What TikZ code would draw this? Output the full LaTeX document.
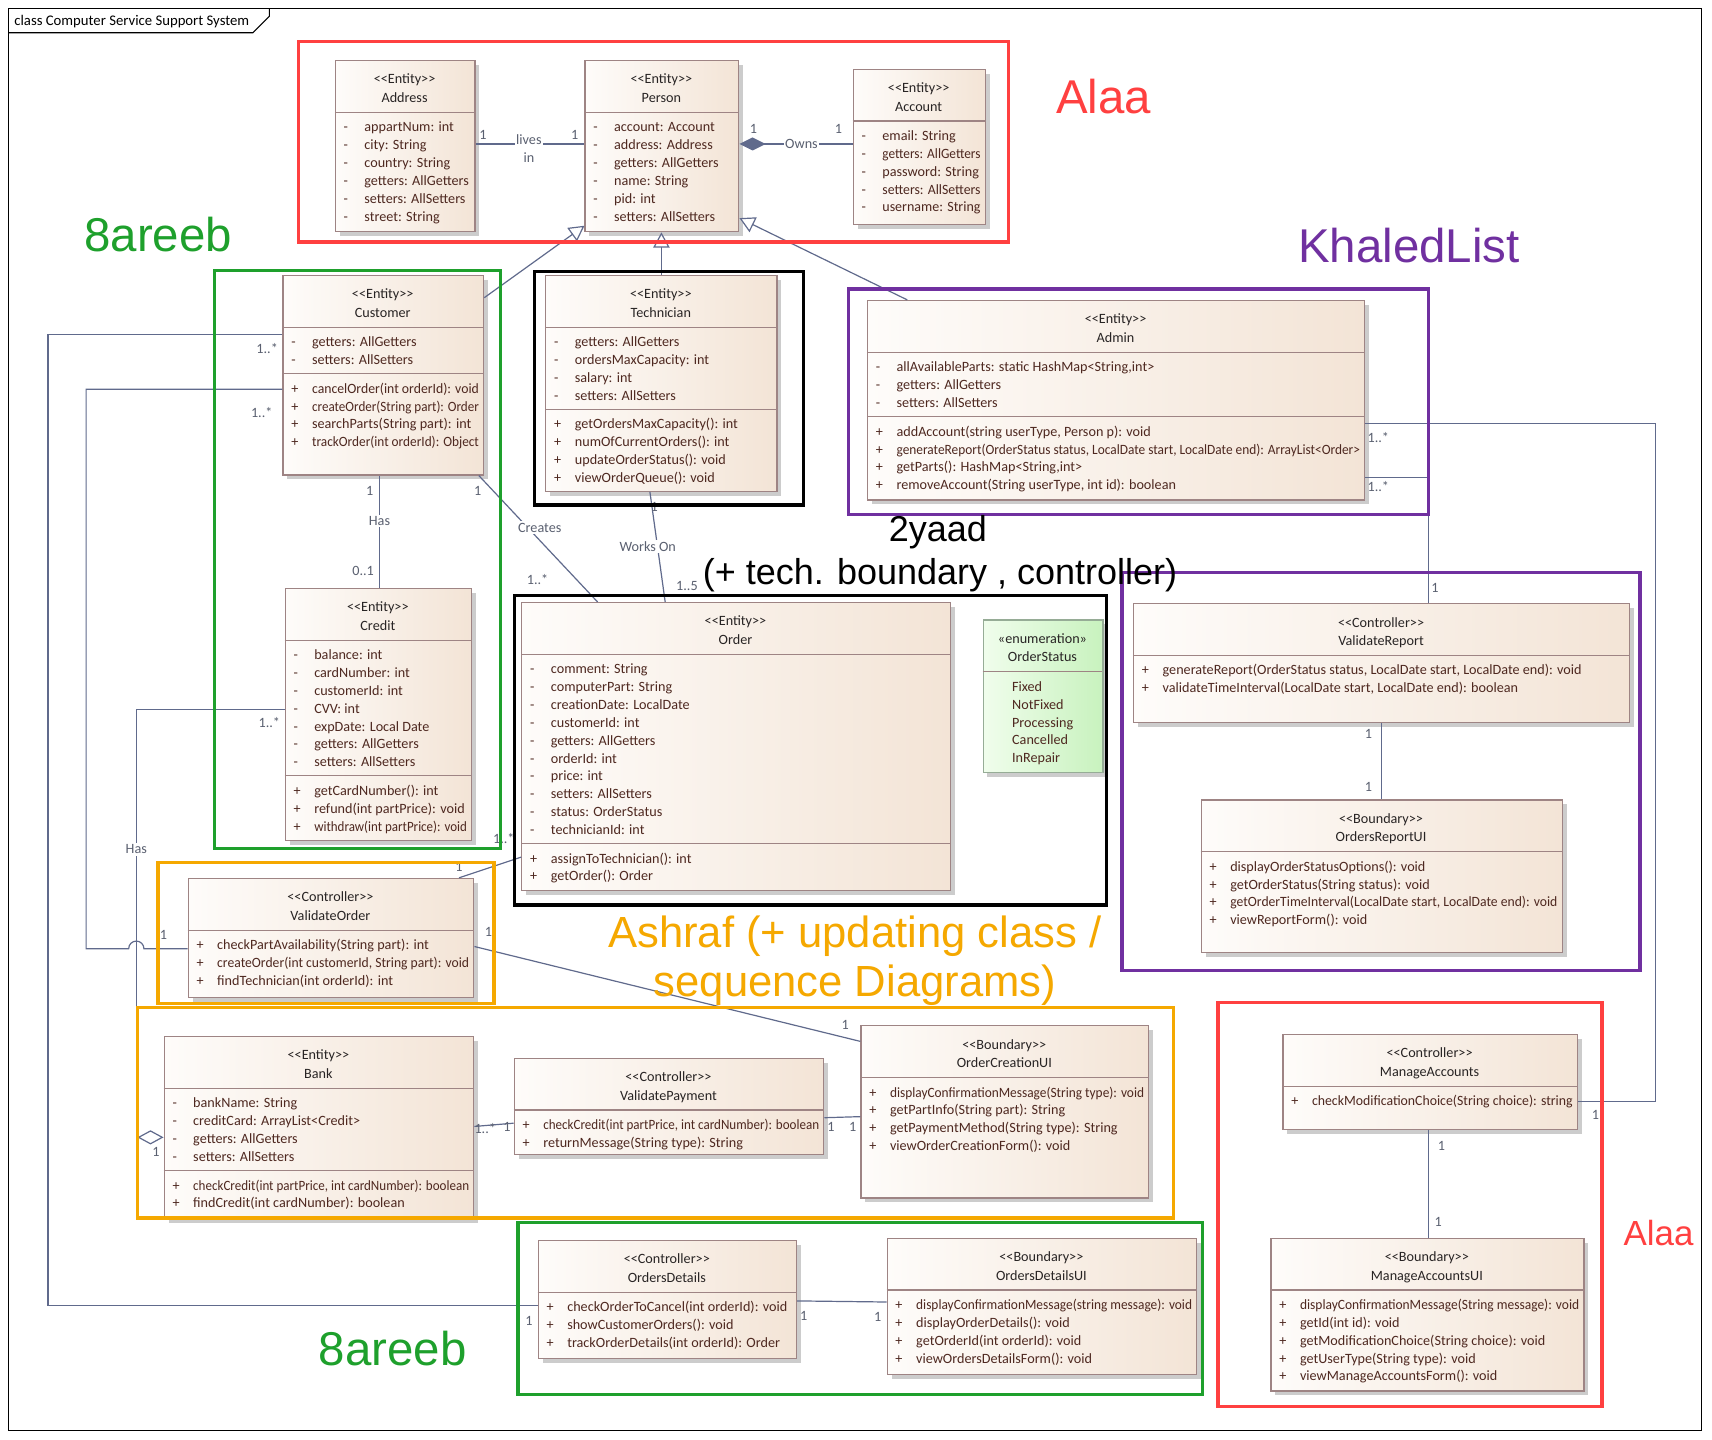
\documentclass[tikz,border=0pt]{standalone}
\usepackage{fontspec}
\usepackage{graphicx}
\newfontfamily\umlfont{Carlito}
\newfontfamily\notefont{Liberation Sans}
\usetikzlibrary{arrows.meta,shadows}

\definecolor{clsborder}{RGB}{158,132,132}
\definecolor{clsleft}{RGB}{254,252,250}
\definecolor{clsright}{RGB}{243,228,214}
\definecolor{enumleft}{RGB}{240,253,236}
\definecolor{enumright}{RGB}{200,242,190}
\definecolor{enumborder}{RGB}{150,172,150}
\definecolor{linkcol}{RGB}{96,106,140}
\definecolor{multcol}{RGB}{90,96,112}
\definecolor{membercol}{RGB}{78,40,32}
\definecolor{headcol}{RGB}{40,36,36}
\definecolor{alaared}{RGB}{255,64,64}
\definecolor{areebgreen}{RGB}{30,160,44}
\definecolor{khaledpurple}{RGB}{112,48,160}
\definecolor{ashrafamber}{RGB}{245,168,0}

\newsavebox\fitbox
\newcommand\fitto[2]{\sbox\fitbox{#2}\ifdim\wd\fitbox>#1\relax\resizebox{#1}{\height}{\usebox\fitbox}\else\usebox\fitbox\fi}
\newcommand\st[1]{<{}<#1>{}>}

\newcommand\umlclass[8][]{%
  \node[umlbox,#1,minimum width={(#5-#3)*1pt},minimum height={(#6-#4)*1pt}] (#2) at (#3,#4) {};
  \node[umlhead] (#2-st) at ({(#3+#5)/2},#4+22) {#7};
  \node[umlhead] (#2-nm) at ({(#3+#5)/2},#4+39) {#8};
  \def\clsName{#2}\def\clsL{#3}\def\clsR{#5}%
  \pgfmathsetmacro\clsY{#4+48}%
  \pgfmathsetmacro\clsW{#5-#3-31}}

\newcommand\umlpart[3]{%
  \draw[umlline] (\clsL,\clsY) -- (\clsR,\clsY);
  \foreach \m [count=\i] in {#3}{%
    \node[umlmember] (\clsName-#1-\i-k) at (\clsL+8,\clsY+1.65+16.35*\i) {#2};
    \node[umlmember] (\clsName-#1-\i) at (\clsL+27,\clsY+1.65+16.35*\i) {\fitto{\clsW pt}{\m}};
    \xdef\clsCount{\i}}%
  \pgfmathsetmacro\clsY{\clsY+16.35*\clsCount+10}}

\begin{document}
\begin{tikzpicture}[x=1pt,y=-1pt,
  umlbox/.style={draw=clsborder,line width=1.1pt,left color=clsleft,right color=clsright,anchor=north west,inner sep=0pt,
    drop shadow={shadow xshift=4pt,shadow yshift=-4pt,fill=black!20,opacity=1}},
  enumbox/.style={draw=enumborder,left color=enumleft,right color=enumright},
  umlhead/.style={font={\umlfont\fontsize{13}{15}\selectfont},text=headcol,anchor=base,inner sep=0pt},
  umlmember/.style={font={\umlfont\fontsize{13}{15}\selectfont},text=membercol,anchor=base west,inner sep=0pt},
  umlline/.style={draw=clsborder,line width=1.1pt},
  link/.style={draw=linkcol,line width=1.1pt},
  mult/.style={font={\umlfont\fontsize{13}{15}\selectfont},text=multcol,inner sep=0pt},
  linklabel/.style={mult,fill=white,inner sep=1.5pt},
  group/.style={line width=3pt},
  note/.style={font={\notefont\fontsize{43.5}{50}\selectfont},anchor=base,inner sep=0pt}]

  \useasboundingbox (0,0) rectangle (1570,1320);
  \fill[white] (0,0) rectangle (1570,1320);

  \draw[line width=1pt] (8,8) rectangle (1560,1312);
  \draw[line width=1pt] (8,30) -- (232,30) -- (247,15) -- (247,8);
  \node[anchor=west,inner sep=0pt,font={\umlfont\fontsize{13.5}{15}\selectfont}] (frametitle) at (13,19.5) {class Computer Service Support System};

  \umlclass{address}{307}{55}{435}{212}{\st{Entity}}{Address}
  \umlpart{a}{-}{appartNum: int, city: String, country: String, getters: AllGetters, setters: AllSetters, street: String}

  \umlclass{person}{536}{55}{677}{212}{\st{Entity}}{Person}
  \umlpart{a}{-}{account: Account, address: Address, getters: AllGetters, name: String, pid: int, setters: AllSetters}

  \umlclass{account}{782}{63}{903}{205}{\st{Entity}}{Account}
  \umlpart{a}{-}{email: String, getters: AllGetters, password: String, setters: AllSetters, username: String}

  \umlclass{customer}{259}{252}{443}{435}{\st{Entity}}{Customer}
  \umlpart{a}{-}{getters: AllGetters, setters: AllSetters}
  \umlpart{b}{+}{cancelOrder(int orderId): void, createOrder(String part): Order, searchParts(String part): int, trackOrder(int orderId): Object}

  \umlclass{technician}{500}{252}{712}{450}{\st{Entity}}{Technician}
  \umlpart{a}{-}{getters: AllGetters, ordersMaxCapacity: int, salary: int, setters: AllSetters}
  \umlpart{b}{+}{getOrdersMaxCapacity(): int, numOfCurrentOrders(): int, updateOrderStatus(): void, viewOrderQueue(): void}

  \umlclass{admin}{795}{275}{1251}{458}{\st{Entity}}{Admin}
  \umlpart{a}{-}{{allAvailableParts: static HashMap<String,int>}, getters: AllGetters, setters: AllSetters}
  \umlpart{b}{+}{{addAccount(string userType, Person p): void}, {generateReport(OrderStatus status, LocalDate start, LocalDate end): ArrayList<Order>}, {getParts(): HashMap<String,int>}, {removeAccount(String userType, int id): boolean}}

  \umlclass{credit}{261}{539}{432}{770}{\st{Entity}}{Credit}
  \umlpart{a}{-}{balance: int, cardNumber: int, customerId: int, CVV: int, expDate: Local Date, getters: AllGetters, setters: AllSetters}
  \umlpart{b}{+}{getCardNumber(): int, refund(int partPrice): void, withdraw(int partPrice): void}

  \umlclass{order}{478}{552}{871}{816}{\st{Entity}}{Order}
  \umlpart{a}{-}{comment: String, computerPart: String, creationDate: LocalDate, customerId: int, getters: AllGetters, orderId: int, price: int, setters: AllSetters, status: OrderStatus, technicianId: int}
  \umlpart{b}{+}{assignToTechnician(): int, getOrder(): Order}

  \umlclass[enumbox]{orderstatus}{901}{568}{1011}{708}{«enumeration»}{OrderStatus}
  \umlpart{a}{}{Fixed, NotFixed, Processing, Cancelled, InRepair}

  \umlclass{validatereport}{1039}{553}{1494}{662}{\st{Controller}}{ValidateReport}
  \umlpart{a}{+}{{generateReport(OrderStatus status, LocalDate start, LocalDate end): void}, {validateTimeInterval(LocalDate start, LocalDate end): boolean}}

  \umlclass{ordersreportui}{1101}{733}{1432}{873}{\st{Boundary}}{OrdersReportUI}
  \umlpart{a}{+}{displayOrderStatusOptions(): void, getOrderStatus(String status): void, {getOrderTimeInterval(LocalDate start, LocalDate end): void}, viewReportForm(): void}

  \umlclass{validateorder}{172}{805}{434}{914}{\st{Controller}}{ValidateOrder}
  \umlpart{a}{+}{checkPartAvailability(String part): int, {createOrder(int customerId, String part): void}, findTechnician(int orderId): int}

  \umlclass{bank}{150}{950}{434}{1117}{\st{Entity}}{Bank}
  \umlpart{a}{-}{bankName: String, creditCard: ArrayList<Credit>, getters: AllGetters, setters: AllSetters}
  \umlpart{b}{+}{{checkCredit(int partPrice,  int cardNumber): boolean}, findCredit(int cardNumber): boolean}

  \umlclass{validatepayment}{471}{970}{755}{1058}{\st{Controller}}{ValidatePayment}
  \umlpart{a}{+}{{checkCredit(int partPrice,  int cardNumber): boolean}, returnMessage(String type): String}

  \umlclass{ordercreationui}{789}{940}{1053}{1098}{\st{Boundary}}{OrderCreationUI}
  \umlpart{a}{+}{displayConfirmationMessage(String type): void, getPartInfo(String part): String, getPaymentMethod(String type): String, viewOrderCreationForm(): void}

  \umlclass{ordersdetails}{493}{1137}{730}{1245}{\st{Controller}}{OrdersDetails}
  \umlpart{a}{+}{checkOrderToCancel(int orderId): void, showCustomerOrders(): void, trackOrderDetails(int orderId): Order}

  \umlclass{ordersdetailsui}{813}{1135}{1097}{1260}{\st{Boundary}}{OrdersDetailsUI}
  \umlpart{a}{+}{displayConfirmationMessage(string message): void, displayOrderDetails(): void, getOrderId(int orderId): void, viewOrdersDetailsForm(): void}

  \umlclass{manageaccounts}{1176}{948}{1446}{1035}{\st{Controller}}{ManageAccounts}
  \umlpart{a}{+}{checkModificationChoice(String choice): string}

  \umlclass{manageaccountsui}{1165}{1135}{1452}{1275}{\st{Boundary}}{ManageAccountsUI}
  \umlpart{a}{+}{displayConfirmationMessage(String message): void, getId(int id): void, getModificationChoice(String choice): void, getUserType(String type): void, viewManageAccountsForm(): void}

  \draw[link] (address.east |- 0,132) -- (person.west |- 0,132);
  \draw[link,{Diamond[length=24pt,width=12pt]}-] (person.east |- 0,132) -- (account.west |- 0,132);
  \draw[link,-{Triangle[length=14pt,width=15pt,fill=white]}] (customer.east |- 0,273) -- (person.west |- 0,207);
  \draw[link,-{Triangle[length=14pt,width=15pt,fill=white]}] (technician.north) -- (technician.north |- person.south);
  \draw[link,-{Triangle[length=14pt,width=15pt,fill=white]}] (admin.north -| 832,0) -- (person.east |- 0,200);
  \draw[link] (customer.south -| 348,0) -- (credit.north -| 348,0);
  \draw[link] ([xshift=-5pt]customer.south east) -- (order.north -| 548,0);
  \draw[link] (technician.south -| 596,0) -- (order.north -| 610,0);
  \draw[link] (admin.east |- 0,438) -| (validatereport.north -| 1310,0);
  \draw[link] (admin.east |- 0,388) -| (1518,1010) -- (manageaccounts.east |- 0,1010);
  \draw[link] (validatereport.south -| 1267,0) -- (ordersreportui.north -| 1267,0);
  \draw[link] (manageaccounts.south -| 1310,0) -- (manageaccountsui.north -| 1310,0);
  \draw[link] (validateorder.north -| 421,0) -- (order.west |- 0,786);
  \draw[link] (validateorder.east |- 0,868) -- (ordercreationui.west |- 0,955);
  \draw[link] (bank.east |- 0,1033) -- (validatepayment.west |- 0,1030);
  \draw[link] (validatepayment.east |- 0,1025) -- (ordercreationui.west |- 0,1024);
  \draw[link] (ordersdetails.east |- 0,1193) -- (ordersdetailsui.west |- 0,1194);
  \draw[link] (customer.west |- 0,307) -| (44,1197) -- (ordersdetails.west |- 0,1197);
  \draw[link] (customer.west |- 0,357) -| (79,870) -- (118,870) arc[start angle=180,end angle=0,radius=7pt] -- (validateorder.west |- 0,870);
  \draw[link,-{Diamond[length=24pt,width=13pt,fill=white]}] (credit.west |- 0,651) -| (125,1043) -- (bank.west |- 0,1043);

  \node[linklabel] (livesT) at (485,128) {lives};
  \node[mult] (inT) at (485,145) {in};
  \node[linklabel] (ownsT) at (735,132) {Owns};
  \node[linklabel] (hasT) at (348,478) {Has};
  \node[linklabel] (createsT) at (495,484) {Creates};
  \node[linklabel] (worksT) at (594,501) {Works On};
  \node[linklabel] (hasBankT) at (125,779) {Has};

  \node[mult] (m1) at (443,124) {1};
  \node[mult] (m2) at (527,124) {1};
  \node[mult] (m3) at (691,118) {1};
  \node[mult] (m4) at (769,118) {1};
  \node[mult] (m5) at (339,450) {1};
  \node[mult] (m6) at (333,524) {0..1};
  \node[mult] (m7) at (438,450) {1};
  \node[mult] (m8) at (493,531) {1..*};
  \node[mult] (m9) at (600,465) {1};
  \node[mult] (m10) at (630,537) {1..5};
  \node[mult] (m11) at (1264,446) {1..*};
  \node[mult] (m12) at (1316,539) {1};
  \node[mult] (m13) at (1264,401) {1..*};
  \node[mult] (m14) at (1463,1022) {1};
  \node[mult] (m15) at (1255,673) {1};
  \node[mult] (m16) at (1255,722) {1};
  \node[mult] (m17) at (1322,1051) {1};
  \node[mult] (m18) at (1319,1121) {1};
  \node[mult] (m19) at (421,795) {1};
  \node[mult] (m20) at (462,769) {1..*};
  \node[mult] (m21) at (448,855) {1};
  \node[mult] (m22) at (775,940) {1};
  \node[mult] (m23) at (445,1035) {1..*};
  \node[mult] (m24) at (465,1033) {1};
  \node[mult] (m25) at (762,1033) {1};
  \node[mult] (m26) at (782,1033) {1};
  \node[mult] (m27) at (737,1207) {1};
  \node[mult] (m28) at (805,1208) {1};
  \node[mult] (m29) at (245,320) {1..*};
  \node[mult] (m30) at (485,1211) {1};
  \node[mult] (m31) at (240,378) {1..*};
  \node[mult] (m32) at (150,857) {1};
  \node[mult] (m33) at (247,663) {1..*};
  \node[mult] (m34) at (143,1056) {1};

  \draw[group,alaared] (274,38) rectangle (925,222);
  \draw[group,areebgreen] (197,248) rectangle (459,778);
  \draw[group,black] (490,249) rectangle (737,463);
  \draw[group,khaledpurple] (778,265) rectangle (1310,472);
  \draw[group,black] (472,546) rectangle (1015,830);
  \draw[group,khaledpurple] (1029,525) rectangle (1504,890);
  \draw[group,ashrafamber] (145,791) rectangle (453,920);
  \draw[group,ashrafamber] (126,924) rectangle (1076,1117);
  \draw[group,areebgreen] (475,1121) rectangle (1103,1279);
  \draw[group,alaared] (1117,919) rectangle (1469,1290);

  \node[note,text=alaared] (alaaTop) at (1012,104) {Alaa};
  \node[note,text=areebgreen] (areebTop) at (145,231) {8areeb};
  \node[note,text=khaledpurple] (khaled) at (1292,241) {KhaledList};
  \node[note,font={\notefont\fontsize{33}{38}\selectfont}] (yaad) at (860,497) {2yaad};
  \node[note,font={\notefont\fontsize{33}{38}\selectfont}] (yaadNote) at (862,536) {(+ tech. boundary , controller)};
  \node[note,text=ashrafamber,font={\notefont\fontsize{40}{46}\selectfont}] (ashraf) at (784,869) {Ashraf (+ updating class /};
  \node[note,text=ashrafamber,font={\notefont\fontsize{40}{46}\selectfont}] (ashrafNote) at (784,914) {sequence Diagrams)};
  \node[note,text=areebgreen] (areebBot) at (360,1252) {8areeb};
  \node[note,text=alaared,font={\notefont\fontsize{32}{38}\selectfont}] (alaaBot) at (1521,1142) {Alaa};
\end{tikzpicture}
\end{document}
